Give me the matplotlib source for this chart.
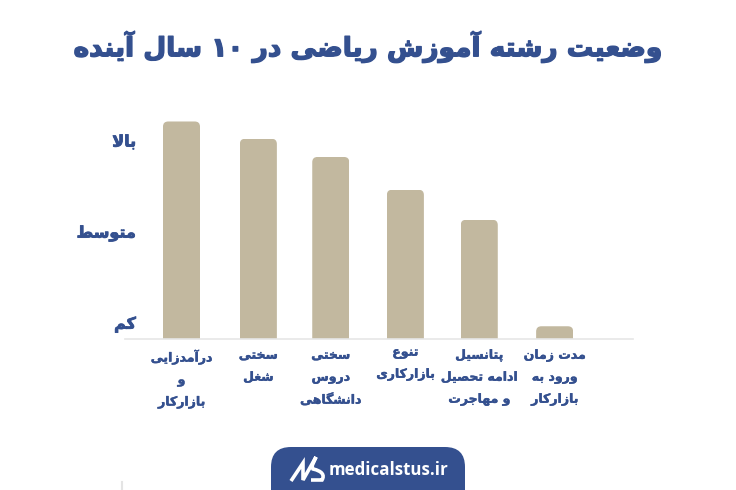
"""Persian bar chart: outlook of the mathematics major over the next 10 years."""

import re

import matplotlib
matplotlib.use("Agg")
import matplotlib.patheffects as pe
import matplotlib.pyplot as plt
from matplotlib.patches import FancyBboxPatch
from matplotlib.path import Path
from matplotlib.patches import PathPatch
from matplotlib.transforms import ScaledTranslation

NAVY = "#34508f"
BAR = "#c2b89f"

title = "وضعیت رشته آموزش ریاضی در ۱۰ سال آینده"
level_labels = ["کم", "متوسط", "بالا"]
level_values = [0.18, 1.18, 2.18]
categories = [
    "درآمدزایی\nو\nبازارکار",
    "سختی\nشغل",
    "سختی\nدروس\nدانشگاهی",
    "تنوع\nبازارکاری",
    "پتانسیل\nادامه تحصیل\nو مهاجرت",
    "مدت زمان\nورود به\nبازارکار",
]
values = [2.39, 2.20, 2.00, 1.64, 1.31, 0.14]
bar_pos = [0, 1.03, 2.0, 3.0, 3.99, 5]

# isolated, final, initial, medial (two entries = no joining to the next letter)
FORMS = {
    "ا": (0xFE8D, 0xFE8E), "آ": (0xFE81, 0xFE82), "د": (0xFEA9, 0xFEAA),
    "ذ": (0xFEAB, 0xFEAC), "ر": (0xFEAD, 0xFEAE), "ز": (0xFEAF, 0xFEB0),
    "ژ": (0xFB8A, 0xFB8B), "و": (0xFEED, 0xFEEE),
    "ب": (0xFE8F, 0xFE90, 0xFE91, 0xFE92), "پ": (0xFB56, 0xFB57, 0xFB58, 0xFB59),
    "ت": (0xFE95, 0xFE96, 0xFE97, 0xFE98), "ث": (0xFE99, 0xFE9A, 0xFE9B, 0xFE9C),
    "ج": (0xFE9D, 0xFE9E, 0xFE9F, 0xFEA0), "چ": (0xFB7A, 0xFB7B, 0xFB7C, 0xFB7D),
    "ح": (0xFEA1, 0xFEA2, 0xFEA3, 0xFEA4), "خ": (0xFEA5, 0xFEA6, 0xFEA7, 0xFEA8),
    "س": (0xFEB1, 0xFEB2, 0xFEB3, 0xFEB4), "ش": (0xFEB5, 0xFEB6, 0xFEB7, 0xFEB8),
    "ص": (0xFEB9, 0xFEBA, 0xFEBB, 0xFEBC), "ض": (0xFEBD, 0xFEBE, 0xFEBF, 0xFEC0),
    "ط": (0xFEC1, 0xFEC2, 0xFEC3, 0xFEC4), "ظ": (0xFEC5, 0xFEC6, 0xFEC7, 0xFEC8),
    "ع": (0xFEC9, 0xFECA, 0xFECB, 0xFECC), "غ": (0xFECD, 0xFECE, 0xFECF, 0xFED0),
    "ف": (0xFED1, 0xFED2, 0xFED3, 0xFED4), "ق": (0xFED5, 0xFED6, 0xFED7, 0xFED8),
    "ک": (0xFB8E, 0xFB8F, 0xFB90, 0xFB91), "گ": (0xFB92, 0xFB93, 0xFB94, 0xFB95),
    "ل": (0xFEDD, 0xFEDE, 0xFEDF, 0xFEE0), "م": (0xFEE1, 0xFEE2, 0xFEE3, 0xFEE4),
    "ن": (0xFEE5, 0xFEE6, 0xFEE7, 0xFEE8), "ه": (0xFEE9, 0xFEEA, 0xFEEB, 0xFEEC),
    "ی": (0xFBFC, 0xFBFD, 0xFBFE, 0xFBFF),
}


def shape_line(line):
    """Pick joined letter forms and lay the line out right to left."""
    out = []
    joins_prev = False
    i = 0
    while i < len(line):
        ch = line[i]
        if ch not in FORMS:
            out.append(ch)
            joins_prev = False
            i += 1
            continue
        if ch == "ل" and line[i + 1:i + 2] == "ا":
            out.append(chr(0xFEFC if joins_prev else 0xFEFB))
            joins_prev = False
            i += 2
            continue
        forms = FORMS[ch]
        next_ok = line[i + 1:i + 2] in FORMS and line[i + 1:i + 2] != ""
        if len(forms) == 2:
            out.append(chr(forms[1 if joins_prev else 0]))
            joins_prev = False
        else:
            if joins_prev and next_ok:
                out.append(chr(forms[3]))
            elif joins_prev:
                out.append(chr(forms[1]))
            elif next_ok:
                out.append(chr(forms[2]))
            else:
                out.append(chr(forms[0]))
            joins_prev = next_ok
        i += 1
    # digits keep their own direction inside the reversed line
    parts = re.split(r"([۰-۹]+)", "".join(out))
    return "".join(p if re.fullmatch(r"[۰-۹]+", p) else p[::-1] for p in reversed(parts))


def fa(text):
    return "\n".join(shape_line(line) for line in text.split("\n"))


def heavy(width):
    return [pe.withStroke(linewidth=width, foreground=NAVY)]


W, H = 736, 490
fig = plt.figure(figsize=(W / 100, H / 100), dpi=100)
plt.rcParams["font.family"] = "DejaVu Sans"

# axes box in pixels: x 125-633, baseline at y=339, top at y=100
ax = fig.add_axes([125 / W, 1 - 339 / H, 508 / W, 239 / H])
ax.set_xlim(-0.757, 6.05)
ax.set_ylim(0, 2.626)

bars = ax.bar(bar_pos, values, width=0.496, color=BAR, linewidth=0)
for bar in bars:
    # round the top corners only, the lower ones fall outside the clip box
    clip = FancyBboxPatch(
        (bar.get_x(), -0.3), bar.get_width(), bar.get_height() + 0.3,
        boxstyle="round,pad=0,rounding_size=0.07", mutation_aspect=0.82,
        transform=ax.transData, linewidth=0,
    )
    bar.set_clip_path(clip)

for side in ("left", "right", "top"):
    ax.spines[side].set_visible(False)
ax.spines["bottom"].set_color("#e6e6e6")
ax.spines["bottom"].set_linewidth(1.2)

ax.set_yticks(level_values, [fa(s) for s in level_labels])
ax.tick_params(axis="y", length=0, pad=-8, labelcolor=NAVY, labelsize=11.5)
for t in ax.get_yticklabels():
    t.set_fontweight("bold")
    t.set_path_effects(heavy(0.6))

ax.set_xticks(bar_pos, [fa(s) for s in categories])
ax.tick_params(axis="x", length=0, pad=7, labelcolor=NAVY, labelsize=9)
for i, t in enumerate(ax.get_xticklabels()):
    t.set_fontweight("bold")
    t.set_linespacing(1.9)
    t.set_path_effects(heavy(0.3))
    if i == 3:
        t.set_transform(t.get_transform() + ScaledTranslation(0, 3 / 100, fig.dpi_scale_trans))

# page level items, drawn in pixel coordinates
page = fig.add_axes([0, 0, 1, 1], zorder=-1)
page.set_xlim(0, W)
page.set_ylim(H, 0)
page.axis("off")

page.text(368, 47, fa(title), ha="center", va="center", color=NAVY,
          fontsize=19, fontweight="bold", path_effects=heavy(1.0))

page.add_patch(FancyBboxPatch(
    (271, 447), 194, 70, boxstyle="round,pad=0,rounding_size=20",
    facecolor=NAVY, edgecolor="none",
))
# logo mark: zigzag running into an S curve
logo_verts = [(291, 481), (303, 463), (303, 480), (316, 457),
              (312, 466), (313, 469), (322, 471), (325, 475), (322, 480), (311, 480)]
logo_codes = [Path.MOVETO, Path.LINETO, Path.LINETO, Path.LINETO,
              Path.LINETO, Path.LINETO, Path.CURVE4, Path.CURVE4, Path.CURVE4, Path.LINETO]
page.add_patch(PathPatch(Path(logo_verts, logo_codes), facecolor="none",
                         edgecolor="white", linewidth=2.6, joinstyle="miter"))
page.text(329, 470, "medicalstus.ir", ha="left", va="center", color="white",
          fontsize=12.2, fontweight="bold", family="Open Sans")
page.plot([122, 122], [482, 490], color="#e4e4e4", linewidth=1.5)

fig.savefig("out.png", dpi=100)
